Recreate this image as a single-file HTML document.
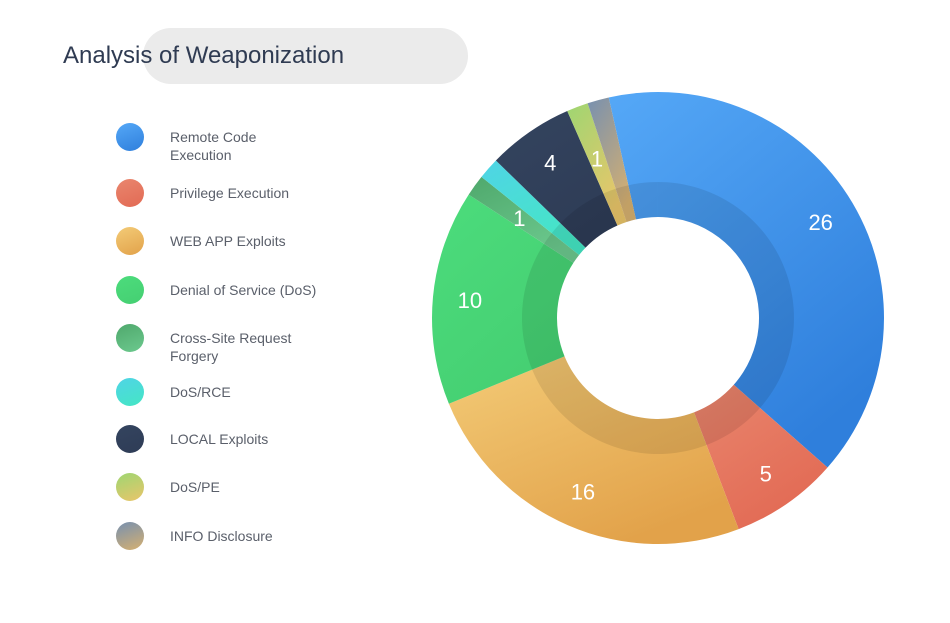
<!DOCTYPE html>
<html><head><meta charset="utf-8"><style>
body{margin:0;background:#fff;font-family:"Liberation Sans",sans-serif;}
#wrap{position:relative;width:950px;height:623px;overflow:hidden;}
.pill{position:absolute;left:143px;top:28px;width:325px;height:56px;border-radius:28px;background:#ebebeb;}
.title{position:absolute;left:63px;top:42px;font-size:24px;color:#2f3b52;}
.leg{position:absolute;left:116px;width:260px;}
.dot{position:absolute;left:0;width:28px;height:28px;border-radius:50%;}
.lab{position:absolute;left:54px;font-size:14px;color:#5a5f6a;line-height:18px;}
</style></head><body>
<div id="wrap">
<div class="pill"></div>
<div class="title">Analysis of Weaponization</div>
<div id="legend"></div>
<svg id="pie" width="950" height="623" style="position:absolute;left:0;top:0">
<defs id="defs"></defs>
</svg>
</div>
<script>
const categories=["Remote Code Execution","Privilege Execution","WEB APP Exploits","Denial of Service (DoS)","Cross-Site Request Forgery","DoS/RCE","LOCAL Exploits","DoS/PE","INFO Disclosure"];
const legendLabels=[["Remote Code","Execution"],["Privilege Execution"],["WEB APP Exploits"],["Denial of Service (DoS)"],["Cross-Site Request","Forgery"],["DoS/RCE"],["LOCAL Exploits"],["DoS/PE"],["INFO Disclosure"]];
const values=[26,5,16,10,1,1,4,1,1];
const shownLabels=[true,true,true,true,true,false,true,true,false];
const colorsA=["#55a8f7","#e9866e","#f3cb77","#4cdc7c","#4fa86c","#4fd4e6","#34445f","#9ed672","#7790b0"];
const colorsB=["#2f7fdc","#e26a54","#e2a24a","#45cf72","#6cc98e","#45e6c4","#2e3c56","#eac56a","#d6b070"];
const legY=[137,193,241,290,338,392,439,487,536];
const NS="http://www.w3.org/2000/svg";
const svg=document.getElementById('pie'),defs=document.getElementById('defs');
const cx=658,cy=318,R=226,r0=101,rShade=136,start=-12.6;
const total=values.reduce((a,b)=>a+b,0);
function pt(a,rad){const t=a*Math.PI/180;return [cx+rad*Math.sin(t),cy-rad*Math.cos(t)];}
function arc(a0,a1,ro,ri){const[x0,y0]=pt(a0,ro),[x1,y1]=pt(a1,ro),[x2,y2]=pt(a1,ri),[x3,y3]=pt(a0,ri);const l=(a1-a0)>180?1:0;
return `M${x0},${y0}A${ro},${ro} 0 ${l} 1 ${x1},${y1}L${x2},${y2}A${ri},${ri} 0 ${l} 0 ${x3},${y3}Z`;}
let a=start;
values.forEach((v,i)=>{
 const g=document.createElementNS(NS,'linearGradient');g.id='g'+i;g.setAttribute('x1','0');g.setAttribute('y1','0');g.setAttribute('x2','0.6');g.setAttribute('y2','1');
 g.innerHTML=`<stop offset="0" stop-color="${colorsA[i]}"/><stop offset="1" stop-color="${colorsB[i]}"/>`;defs.appendChild(g);
 const span=v/total*360;
 const p=document.createElementNS(NS,'path');p.setAttribute('d',arc(a,a+span,R,r0));p.setAttribute('fill','url(#g'+i+')');
 
 
 svg.appendChild(p);
 if(shownLabels[i]){const mid=a+span/2,lr=v>2?(R+rShade)/2+8:(R+rShade)/2-10;const[tx,ty]=pt(mid,lr);
  const t=document.createElementNS(NS,'text');t.setAttribute('x',tx);t.setAttribute('y',ty+8);t.setAttribute('text-anchor','middle');
  t.setAttribute('font-size','22');t.setAttribute('fill','#fff');t.setAttribute('font-family','Liberation Sans, sans-serif');t.textContent=v;
  
  
  svg.appendChild(t);}
 a+=span;
});
const sh=document.createElementNS(NS,'path');sh.setAttribute('d',arc(0,359.99,rShade,r0));sh.setAttribute('fill','rgba(0,0,0,0.09)');


svg.appendChild(sh);
const leg=document.getElementById('legend');
categories.forEach((c,i)=>{
 const d=document.createElement('div');d.className='leg';d.style.top=(legY[i]-14)+'px';
 
 
 const dot=document.createElement('div');dot.className='dot';dot.style.background=`linear-gradient(160deg,${colorsA[i]},${colorsB[i]})`;
 
 
 const l=document.createElement('div');l.className='lab';l.style.top='5px';l.innerHTML=legendLabels[i].join('<br>');
 
 
 d.appendChild(dot);d.appendChild(l);leg.appendChild(d);
});
</script>
</body></html>
